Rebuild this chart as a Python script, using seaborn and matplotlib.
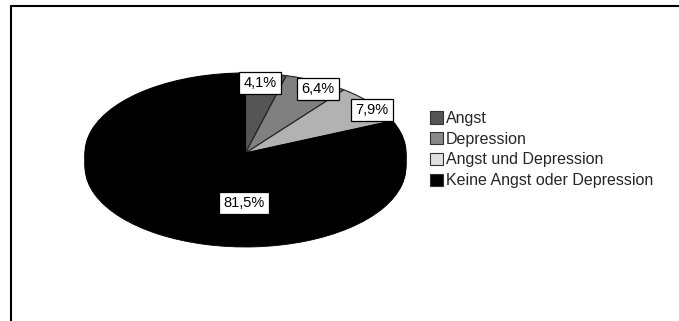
import matplotlib
matplotlib.use("Agg")
import matplotlib.pyplot as plt
from matplotlib.patches import Patch
from matplotlib.lines import Line2D
import seaborn as sns

# ---- data ----
categories = ["Angst", "Depression", "Angst und Depression", "Keine Angst oder Depression"]
values = [4.1, 6.4, 7.9, 81.5]
value_labels = ["4,1%", "6,4%", "7,9%", "81,5%"]

# ---- styles / layout ----
slice_colors = ["#555555", "#808080", "#b2b2b2", "#000000"]
legend_colors = ["#555555", "#888888", "#e0e0e0", "#000000"]
W, H = 679, 321
cx, cy, rx, ry = 245.5, 153, 160.5, 80       # top face centre and radii in pixels
depth = 14                                    # 3D extrusion depth in pixels
label_pos = [(260, 83), (318, 89), (372, 110), (244, 203)]  # label anchors (px)

sns.set_theme(style="white")
plt.rcParams["font.family"] = ["Liberation Sans", "DejaVu Sans"]

fig = plt.figure(figsize=(W / 100, H / 100), dpi=100)
fig.patch.set_facecolor("white")
ax = fig.add_axes([0, 0, 1, 1])

# side (extrusion) of the 3D pie, built from stacked layers
for k in range(1, 8):
    off = depth * k / 7
    ax.pie(values, colors=["black"] * len(values), startangle=90, counterclock=False,
           center=(0, -off / ry), wedgeprops=dict(edgecolor="black", linewidth=0.6))
# top face
wedges, _ = ax.pie(values, colors=slice_colors, startangle=90, counterclock=False,
                   wedgeprops=dict(edgecolor="#222222", linewidth=0.8))
wedges[-1].set_edgecolor("black")
ax.set_aspect("auto")
ax.set_xlim(-cx / rx, (W - cx) / rx)
ax.set_ylim(-(H - cy) / ry, cy / ry)
ax.axis("off")

for (px, py), lab in zip(label_pos, value_labels):
    ax.text(px / W, 1 - py / H, lab, transform=ax.transAxes, ha="center", va="center",
            fontsize=10.5, color="black",
            bbox=dict(boxstyle="square,pad=0.28", facecolor="white", edgecolor="black", linewidth=0.9))

handles = [Patch(facecolor=c, edgecolor="#333333", linewidth=0.8) for c in legend_colors]
fig.legend(handles, categories, loc="upper left", bbox_to_anchor=(430 / W, 1 - 111 / H),
           frameon=False, fontsize=11.5, handlelength=0.8, handleheight=0.8,
           handletextpad=0.2, labelspacing=0.36, borderpad=0, borderaxespad=0)

# outer border (top and left only)
fig.add_artist(Line2D([11 / W, 11 / W], [0, 1 - 6 / H], transform=fig.transFigure,
                      color="black", linewidth=1.5))
fig.add_artist(Line2D([11 / W, 1], [1 - 6 / H, 1 - 6 / H], transform=fig.transFigure,
                      color="black", linewidth=1.5))

fig.savefig("out.png", dpi=100, facecolor="white")
